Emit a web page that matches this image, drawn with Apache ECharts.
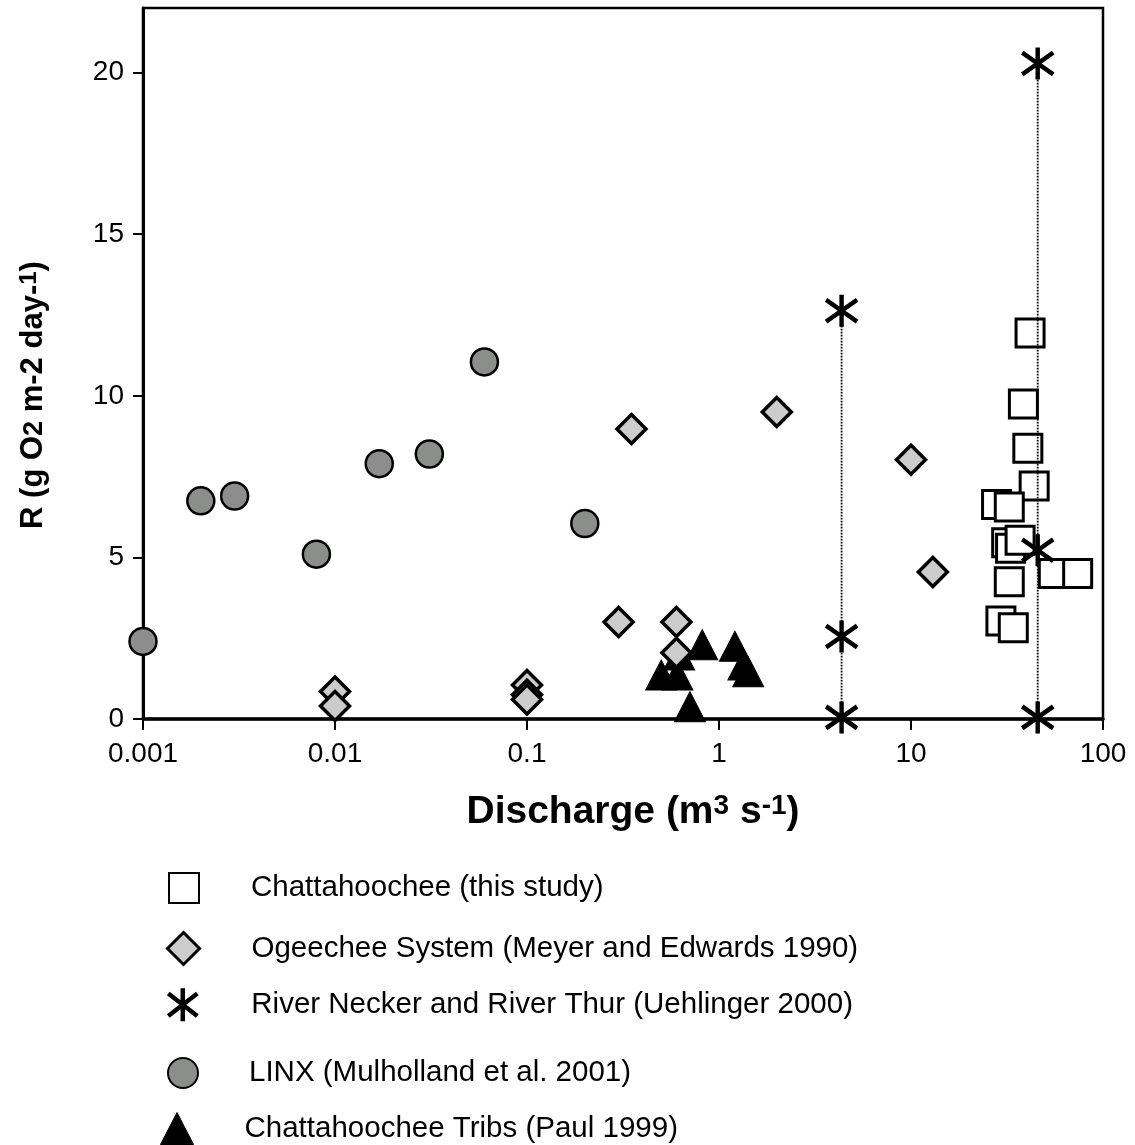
<!DOCTYPE html>
<html><head><meta charset="utf-8">
<script src="https://cdn.jsdelivr.net/npm/echarts@6/dist/echarts.min.js"></script>
<style>html,body{margin:0;padding:0;background:#fff}#c{width:1135px;height:1145px}</style>
</head><body><div id="c"></div>
<script>
// ---- data ----
const seriesNames = [
  'Chattahoochee (this study)',
  'Ogeechee System (Meyer and Edwards 1990)',
  'River Necker and River Thur (Uehlinger 2000)',
  'LINX (Mulholland et al. 2001)',
  'Chattahoochee Tribs (Paul 1999)'
];
const chattX = [41.7, 38.5, 40.6, 43.8, 27.9, 32.5, 31.5, 33.0, 37.0, 32.5, 55.1, 73.8, 29.4, 34.1];
const chattY = [11.94, 9.75, 8.38, 7.21, 6.64, 6.56, 5.45, 5.28, 5.53, 4.25, 4.50, 4.50, 3.03, 2.82];
const ogeeX = [0.01, 0.01, 0.1, 0.1, 0.1, 0.3, 0.35, 0.6, 0.6, 2.0, 10, 13];
const ogeeY = [0.85, 0.40, 1.05, 0.75, 0.60, 3.0, 8.97, 3.0, 2.05, 9.5, 8.02, 4.55];
const neckX = [4.35, 4.35, 4.35, 45.7, 45.7, 45.7];
const neckY = [12.63, 2.55, 0.05, 20.28, 5.22, 0.05];
const linxX = [0.001, 0.002, 0.003, 0.008, 0.017, 0.031, 0.06, 0.2];
const linxY = [2.4, 6.75, 6.9, 5.1, 7.9, 8.2, 11.05, 6.05];
const tribX = [0.50, 0.607, 0.62, 0.706, 0.818, 1.21, 1.34, 1.42];
const tribY = [1.36, 1.36, 1.98, 0.38, 2.30, 2.25, 1.67, 1.46];
const xTicks = [0.001, 0.01, 0.1, 1, 10, 100];
const yTicks = [0, 5, 10, 15, 20];

const FONT = '"Liberation Sans", Arial, sans-serif';
const pairs = (xs, ys) => xs.map((x, i) => [x, ys[i]]);
const ASTER = 'path://M50,0L50,100M6,16L94,84M6,84L94,16';

// dotted connector lines for each Necker/Thur discharge
const uniqX = [...new Set(neckX)];
const dottedSeries = uniqX.map(ux => ({
  type: 'line', silent: true, symbol: 'none', z: 3,
  data: pairs(neckX, neckY).filter(p => p[0] === ux).sort((a, b) => a[1] - b[1]),
  lineStyle: { color: '#000', width: 1.8, type: [1.6, 1.4] }
}));

const legendPos = [
  { left: 168, top: 872, w: 30, h: 30, p: 47, bw: 2 },
  { left: 166, top: 931, w: 32, h: 32, p: 47, bw: 3 },
  { left: 166, top: 986, w: 33, h: 33, p: 47, bw: 4.5 },
  { left: 167, top: 1057, w: 30, h: 31, p: 46, bw: 2 },
  { left: 160, top: 1112, w: 33, h: 32, p: 46, bw: 1 }
];

const chart = echarts.init(document.getElementById('c'));
chart.setOption({
  animation: false,
  backgroundColor: '#fff',
  grid: { left: 143, right: 32, top: 8, bottom: 426, show: true, borderColor: '#000', borderWidth: 2.5, backgroundColor: 'transparent' },
  xAxis: {
    type: 'log', logBase: 10, min: xTicks[0], max: xTicks[xTicks.length - 1],
    axisLine: { lineStyle: { color: '#000', width: 3.5 } },
    axisTick: { length: 11, lineStyle: { color: '#000', width: 2 } },
    minorTick: { show: false }, splitLine: { show: false },
    axisLabel: { fontFamily: FONT, fontSize: 28, color: '#000', margin: 21,
      formatter: v => String(+(+v).toPrecision(3)) }
  },
  yAxis: {
    type: 'value', min: 0, max: 22, interval: 5,
    axisLine: { lineStyle: { color: '#000', width: 3 } },
    axisTick: { length: 10, lineStyle: { color: '#000', width: 2 }, customValues: yTicks },
    splitLine: { show: false },
    axisLabel: { fontFamily: FONT, fontSize: 28, color: '#000', margin: 19, customValues: yTicks }
  },
  legend: seriesNames.map((n, i) => ({
    data: [n], left: legendPos[i].left, top: legendPos[i].top, padding: 0,
    itemWidth: legendPos[i].w, itemHeight: legendPos[i].h, selectedMode: false,
    itemStyle: { borderWidth: legendPos[i].bw, borderColor: '#000' },
    textStyle: { fontFamily: FONT, fontSize: 29.5, color: '#000', padding: [0, 0, 0, legendPos[i].p] }
  })),
  graphic: [
    { type: 'text', x: 33, y: 395, rotation: Math.PI / 2,
      style: { text: '{m|R (g O}{sub|2}{m| m-2 day-}{sup|1}{m|)}', align: 'center', verticalAlign: 'middle',
        rich: {
          m: { fontFamily: FONT, fontSize: 31, fontWeight: 'bold', fill: '#000', lineHeight: 31 },
          sub: { fontFamily: FONT, fontSize: 27, fontWeight: 'bold', fill: '#000', lineHeight: 22, verticalAlign: 'bottom' },
          sup: { fontFamily: FONT, fontSize: 24, fontWeight: 'bold', fill: '#000', lineHeight: 18, verticalAlign: 'top' }
        } } },
    { type: 'text', x: 633, y: 812,
      style: { text: '{m|Discharge (m}{sup|3}{m| s}{sup|-1}{m|)}', align: 'center', verticalAlign: 'middle',
        rich: {
          m: { fontFamily: FONT, fontSize: 39, fontWeight: 'bold', fill: '#000', lineHeight: 39 },
          sup: { fontFamily: FONT, fontSize: 28, fontWeight: 'bold', fill: '#000', lineHeight: 18, verticalAlign: 'top' }
        } } }
  ],
  series: [
    { name: seriesNames[0], type: 'scatter', z: 2, symbol: 'rect', symbolSize: 28,
      data: pairs(chattX, chattY),
      itemStyle: { color: '#fff', borderColor: '#000', borderWidth: 3, opacity: 1 } },
    { name: seriesNames[4], type: 'scatter', z: 2, symbol: 'triangle', symbolSize: [31, 30],
      data: pairs(tribX, tribY),
      itemStyle: { color: '#000', borderColor: '#000', borderWidth: 1, opacity: 1 } },
    { name: seriesNames[1], type: 'scatter', z: 4, symbol: 'diamond', symbolSize: 29,
      data: pairs(ogeeX, ogeeY),
      itemStyle: { color: '#cccccc', borderColor: '#000', borderWidth: 3.5, opacity: 1 } },
    { name: seriesNames[3], type: 'scatter', z: 4, symbol: 'circle', symbolSize: 27,
      data: pairs(linxX, linxY),
      itemStyle: { color: '#8c8e8c', borderColor: '#000', borderWidth: 2.5, opacity: 1 } },
    ...dottedSeries,
    { name: seriesNames[2], type: 'scatter', z: 5, symbol: ASTER, symbolSize: [31, 32],
      data: pairs(neckX, neckY),
      itemStyle: { color: '#000', borderColor: '#000', borderWidth: 4.5, opacity: 1 } }
  ]
});
</script></body></html>
